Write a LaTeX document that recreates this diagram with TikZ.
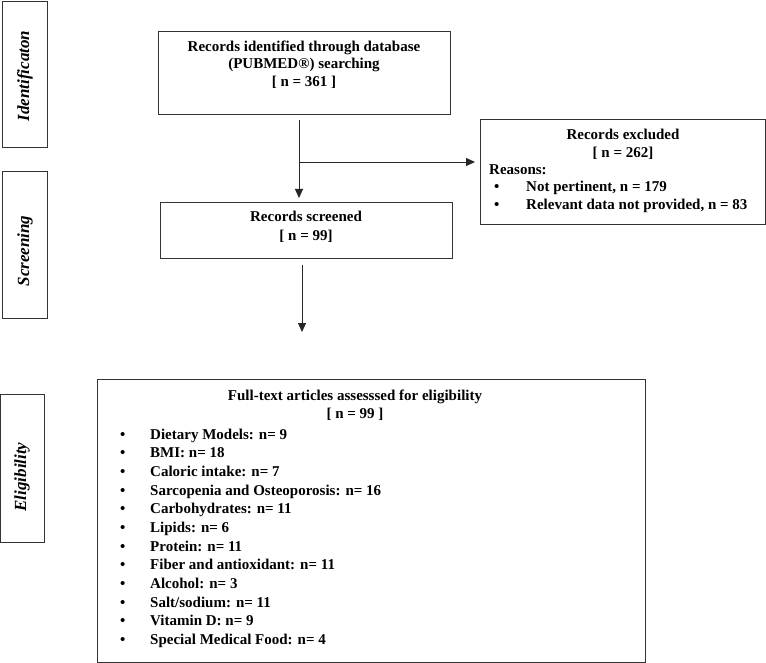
\documentclass[tikz,border=0pt]{standalone}
\usepackage{fontspec}
\setmainfont{Liberation Serif}
\usetikzlibrary{arrows.meta,calc}
\begin{document}
\begin{tikzpicture}[x=1pt,y=-1pt,
  box/.style={draw=black!80,line width=1.1pt,inner sep=0pt,anchor=north west},
  txt/.style={font=\fontsize{15}{17.5}\selectfont\bfseries,inner sep=0pt,anchor=base},
  side/.style={font=\fontsize{17}{20}\selectfont\bfseries\itshape,inner sep=0pt,rotate=90},
  arr/.style={draw=black!85,line width=0.9pt,-{Triangle[length=9pt,width=8pt]}},
  item/.style={font=\fontsize{15}{17.5}\selectfont\bfseries,inner sep=0pt,anchor=base west},
]
\useasboundingbox (0,0) rectangle (766,663);

% side boxes
\node[box,minimum width=45pt,minimum height=146pt] (sideA) at (2,1) {};
\node[box,minimum width=45pt,minimum height=147pt] (sideB) at (2,171) {};
\node[box,minimum width=44pt,minimum height=148pt] (sideC) at (0,394) {};
\node[side] (labA) at (25,76) {Identificaton};
\node[side] (labB) at (25,251) {Screening};
\node[side] (labC) at (22,477) {Eligibility};

% main boxes
\node[box,minimum width=292pt,minimum height=83pt] (idb) at (158,31) {};
\node[txt] (idt1) at (304,52) {Records identified through database};
\node[txt] (idt2) at (304,69) {(PUBMED®) searching};
\node[txt] (idt3) at (304,87) {[ n = 361 ]};

\node[box,minimum width=292pt,minimum height=56pt] (scr) at (160,202) {};
\node[txt] (sct1) at (306,222) {Records screened};
\node[txt] (sct2) at (306,241) {[ n = 99]};

\node[box,minimum width=285pt,minimum height=105pt] (excl) at (480,119) {};
\node[txt] (ext1) at (623,140) {Records excluded};
\node[txt] (ext2) at (623,158) {[ n = 262]};
\node[item] (exr) at (489,175) {Reasons:};
\node[item] (exb1) at (494,192) {\textbullet};
\node[item] (exi1) at (526,192) {Not pertinent, n = 179};
\node[item] (exb2) at (494,210) {\textbullet};
\node[item] (exi2) at (526,210) {Relevant data not provided, n = 83};

\node[box,minimum width=548pt,minimum height=283pt] (full) at (97,379) {};
\node[txt] (ftt1) at (355,400) {Full-text articles assesssed for eligibility};
\node[txt] (ftt2) at (355,418) {[ n = 99 ]};
\foreach \t [count=\i] in {Dietary Models: n= 9, BMI: n= 18, Caloric intake: n= 7,
  Sarcopenia and Osteoporosis: n= 16, Carbohydrates: n= 11, Lipids: n= 6,
  Protein: n= 11, Fiber and antioxidant: n= 11, Alcohol: n= 3,
  Salt/sodium: n= 11, Vitamin D: n= 9, Special Medical Food: n= 4} {
  \node[item] (fb\i) at (120,{439+(\i-1)*18.67}) {\textbullet};
  \node[item] (fi\i) at (150,{439+(\i-1)*18.67}) {\t};
}

% connectors
\coordinate (br) at (299,162);
\coordinate (a2) at (302,300);
\coordinate (a2end) at (302,332);
\draw[arr,shorten <=5pt,shorten >=4pt] (idb.south -| br) -- (scr.north -| br);
\draw[arr,shorten >=5pt] (br) -- (excl.west |- br);
\draw[arr,shorten <=6pt] (scr.south -| a2) -- (a2end);
\end{tikzpicture}
\end{document}
